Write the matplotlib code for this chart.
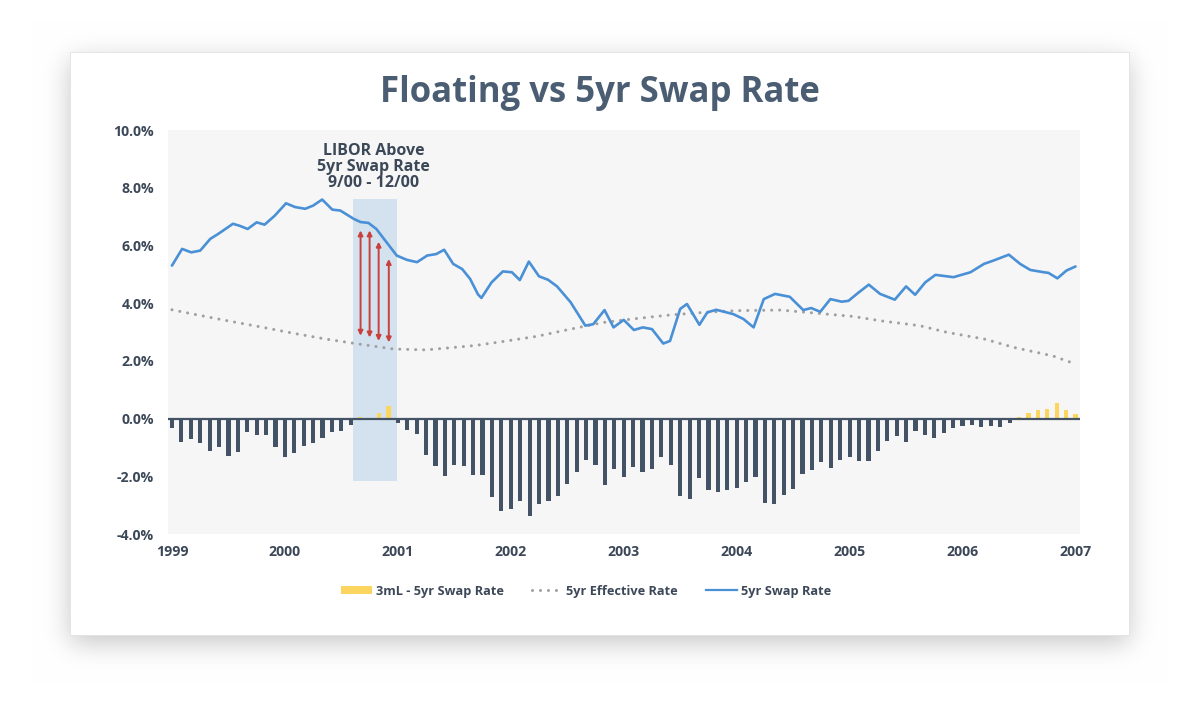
import numpy as np
import matplotlib
matplotlib.use("Agg")
import matplotlib.pyplot as plt
from matplotlib.patches import Rectangle, Patch
from matplotlib.lines import Line2D

# ---------------- data ----------------
title = "Floating vs 5yr Swap Rate"
year_ticks = [1999, 2000, 2001, 2002, 2003, 2004, 2005, 2006, 2007]
pct_ticks = [-4, -2, 0, 2, 4, 6, 8, 10]

# monthly bars: 3mL - 5yr swap spread (%), Jan 1999 .. Jan 2007
spread_start = 1999.0
spread = [-0.31, -0.80, -0.72, -0.83, -1.13, -0.98, -1.28, -1.17, -0.45, -0.57, -0.57, -0.98,
          -1.33, -1.20, -0.95, -0.86, -0.68, -0.45, -0.42, -0.22, 0.05, 0.00, 0.21, 0.44,
          -0.14, -0.41, -0.52, -1.27, -1.66, -1.99, -1.62, -1.66, -1.97, -1.97, -2.72, -3.21,
          -3.13, -2.86, -3.36, -2.97, -2.86, -2.69, -2.26, -1.84, -1.42, -1.62, -2.30, -1.76,
          -2.03, -1.69, -1.84, -1.76, -1.32, -1.61, -2.67, -2.79, -2.07, -2.48, -2.56, -2.48,
          -2.42, -2.21, -2.04, -2.91, -2.97, -2.64, -2.44, -1.93, -1.77, -1.50, -1.70, -1.44,
          -1.32, -1.47, -1.47, -1.13, -0.79, -0.60, -0.82, -0.42, -0.57, -0.68, -0.49, -0.34,
          -0.25, -0.22, -0.30, -0.25, -0.30, -0.14, 0.05, 0.21, 0.29, 0.32, 0.53, 0.29,
          0.15]

# 5yr swap rate (%)
swap_dates = [1999.00, 1999.09, 1999.17, 1999.25, 1999.34, 1999.41, 1999.54, 1999.60, 1999.67,
              1999.75, 1999.82, 1999.91, 2000.01, 2000.09, 2000.18, 2000.25, 2000.33, 2000.42,
              2000.49, 2000.61, 2000.67, 2000.74, 2000.81, 2000.90, 2000.99, 2001.08, 2001.17,
              2001.26, 2001.34, 2001.41, 2001.49, 2001.57, 2001.64, 2001.71, 2001.74, 2001.83,
              2001.93, 2002.01, 2002.08, 2002.16, 2002.25, 2002.33, 2002.41, 2002.53, 2002.66,
              2002.73, 2002.83, 2002.91, 2003.00, 2003.09, 2003.17, 2003.25, 2003.35, 2003.41,
              2003.50, 2003.56, 2003.67, 2003.74, 2003.82, 2003.97, 2004.06, 2004.15, 2004.24,
              2004.34, 2004.47, 2004.59, 2004.66, 2004.74, 2004.83, 2004.93, 2004.99, 2005.08,
              2005.17, 2005.27, 2005.40, 2005.50, 2005.58, 2005.67, 2005.76, 2005.92, 2006.07,
              2006.19, 2006.27, 2006.41, 2006.51, 2006.60, 2006.72, 2006.76, 2006.84, 2006.92,
              2007.00]
swap_rate = [5.30, 5.88, 5.76, 5.82, 6.23, 6.40, 6.75, 6.68, 6.57,
             6.80, 6.72, 7.03, 7.46, 7.33, 7.27, 7.38, 7.59, 7.24,
             7.21, 6.92, 6.81, 6.78, 6.57, 6.11, 5.65, 5.50, 5.42,
             5.65, 5.70, 5.85, 5.36, 5.18, 4.84, 4.30, 4.18, 4.72,
             5.10, 5.07, 4.80, 5.44, 4.93, 4.81, 4.58, 4.03, 3.22,
             3.27, 3.76, 3.16, 3.42, 3.07, 3.16, 3.10, 2.60, 2.69,
             3.80, 3.97, 3.25, 3.68, 3.77, 3.62, 3.45, 3.16, 4.14,
             4.32, 4.22, 3.76, 3.83, 3.70, 4.14, 4.05, 4.08, 4.37,
             4.64, 4.32, 4.12, 4.58, 4.29, 4.72, 4.98, 4.90, 5.07,
             5.36, 5.47, 5.68, 5.36, 5.15, 5.07, 5.05, 4.86, 5.13,
             5.27]

# 5yr effective rate (%)
eff_dates = [1999.00, 1999.19, 1999.49, 1999.78, 2000.07, 2000.37, 2000.66, 2000.96, 2001.25,
             2001.68, 2001.93, 2002.23, 2002.53, 2002.82, 2003.12, 2003.41, 2003.71, 2004.00,
             2004.39, 2004.68, 2005.03, 2005.27, 2005.62, 2005.86, 2006.20, 2006.45, 2006.80,
             2007.00]
eff_rate = [3.77, 3.62, 3.39, 3.18, 2.96, 2.75, 2.58, 2.41, 2.38,
            2.53, 2.67, 2.85, 3.10, 3.33, 3.47, 3.59, 3.68, 3.74,
            3.76, 3.66, 3.54, 3.39, 3.22, 2.99, 2.75, 2.47, 2.17,
            1.89]

# highlighted window (Sep-Dec 2000) and gap arrows
window_span = (2000.60, 2000.99)
window_range = (-2.15, 7.6)
arrow_x = [2000.67, 2000.75, 2000.83, 2000.92]
arrow_top = [6.52, 6.52, 6.13, 5.53]
arrow_bot = [2.87, 2.81, 2.69, 2.64]
note = "LIBOR Above\n5yr Swap Rate\n9/00 - 12/00"

legend_labels = ["3mL - 5yr Swap Rate", "5yr Effective Rate", "5yr Swap Rate"]

# ---------------- style ----------------
DARK = "#3c4858"
BAR_DARK = "#435264"
YELLOW = "#fbd55e"
BLUE = "#4a90d6"
GREY_DOT = "#a0a0a0"
RED = "#c8413c"
BOX = "#d4e2ef"
TITLE_C = "#4b5d72"
FONT = ["Open Sans", "DejaVu Sans"]

plt.rcParams["font.family"] = FONT

W, H = 1200, 724
fig = plt.figure(figsize=(W / 100, H / 100), dpi=100)
fig.patch.set_facecolor("white")

# ---- card with soft shadow (background decoration) ----
bg = fig.add_axes([0, 0, 1, 1], zorder=-10)
bg.set_xlim(0, W)
bg.set_ylim(H, 0)
bg.axis("off")
card = (70, 52, 1129, 635)
mask = np.zeros((H, W))
off = 8
mask[card[1] + off:card[3] + off, card[0]:card[2]] = 1.0
sig = 13
k = np.arange(-3 * sig, 3 * sig + 1)
ker = np.exp(-0.5 * (k / sig) ** 2)
ker /= ker.sum()
blur = np.array([np.convolve(r, ker, mode="same") for r in mask])
blur = np.array([np.convolve(c, ker, mode="same") for c in blur.T]).T
shade = 1 - 0.22 * blur
img = np.dstack([shade, shade, shade])
bg.imshow(img, extent=(0, W, H, 0), aspect="auto", interpolation="bilinear")
bg.add_patch(Rectangle((card[0], card[1]), card[2] - card[0], card[3] - card[1],
                       facecolor="white", edgecolor="#e2e2e2", lw=0.6))

# ---- main axes ----
left, right, top, bottom = 168, 1080, 130, 534
ax = fig.add_axes([left / W, 1 - bottom / H, (right - left) / W, (bottom - top) / H])
ax.set_facecolor("#f6f6f6")
for s in ax.spines.values():
    s.set_visible(False)

ax.set_xlim(1998.965, 2007.04)
ax.set_ylim(-4, 10)

# highlighted window
ax.add_patch(Rectangle((window_span[0], window_range[0]), window_span[1] - window_span[0],
                       window_range[1] - window_range[0], facecolor=BOX, edgecolor="none", zorder=1))

bar_dates = spread_start + np.arange(len(spread)) / 12.0
bar_colors = [YELLOW if v > 0 else BAR_DARK for v in spread]
ax.bar(bar_dates, spread, width=0.037, color=bar_colors, zorder=2)
ax.axhline(0, color=BAR_DARK, lw=1.6, zorder=3)

ax.plot(eff_dates, eff_rate, color=GREY_DOT, lw=2.2, linestyle=(0, (0.01, 2.6)),
        dash_capstyle="round", zorder=3)
ax.plot(swap_dates, swap_rate, color=BLUE, lw=1.9, solid_joinstyle="round",
        solid_capstyle="round", zorder=4)

for x, t, b in zip(arrow_x, arrow_top, arrow_bot):
    ax.annotate("", xy=(x, t), xytext=(x, b),
                arrowprops=dict(arrowstyle="<|-|>", color=RED, lw=1.4,
                                mutation_scale=7, shrinkA=0, shrinkB=0), zorder=5)

ax.text(sum(window_span) / 2 - 0.01, 9.55, note, ha="center", va="top", fontsize=11.5,
        fontweight="bold", color=DARK, linespacing=1.0, zorder=6)

ax.set_xticks(year_ticks)
ax.set_xticklabels([str(y) for y in year_ticks])
ax.set_yticks(pct_ticks)
ax.set_yticklabels([f"{v:.1f}%" for v in pct_ticks])
ax.tick_params(axis="both", length=0, labelsize=10.2, labelcolor=DARK)
ax.tick_params(axis="x", pad=8)
ax.tick_params(axis="y", pad=10)
for lab in ax.get_xticklabels() + ax.get_yticklabels():
    lab.set_fontweight("bold")

fig.text(0.5, 1 - 93 / H, title, ha="center", va="center", fontsize=25,
         fontweight="bold", color=TITLE_C)

handles = [Patch(facecolor=YELLOW, edgecolor="none"),
           Line2D([], [], color=GREY_DOT, lw=2.2, linestyle=(0, (0.01, 2.6)), dash_capstyle="round"),
           Line2D([], [], color=BLUE, lw=1.6)]
leg = fig.legend(handles, legend_labels, loc="center", bbox_to_anchor=(586 / W, 1 - 591 / H),
                 ncol=3, frameon=False, handlelength=2.4, handleheight=0.5, handletextpad=0.3,
                 columnspacing=2.2, prop=dict(family=FONT, weight="bold", size=9.2))
for t in leg.get_texts():
    t.set_color(DARK)

fig.savefig("out.png", dpi=100, facecolor="white")
